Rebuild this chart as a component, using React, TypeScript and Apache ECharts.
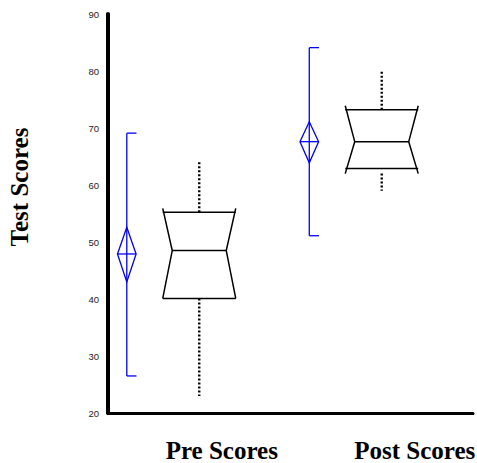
import React, { useEffect, useRef } from "react";
import * as echarts from "echarts";

const categories = ["Pre Scores", "Post Scores"];
// notched box plot values
const whiskerLow = [23.0, 59.0];
const q1 = [40.1, 62.9];
const notchLow = [40.1, 62.0];
const median = [48.5, 67.6];
const notchHigh = [55.9, 73.9];
const q3 = [55.2, 73.2];
const whiskerHigh = [64.3, 80.0];
// mean diamonds with error bars
const errLow = [26.5, 51.1];
const ciLow = [43.0, 63.9];
const means = [47.9, 67.6];
const ciHigh = [52.6, 71.1];
const errHigh = [69.1, 84.1];
const yTicks = [20, 30, 40, 50, 60, 70, 80, 90];
const yTitle = "Test Scores";

export default function App() {
  const ref = useRef<HTMLDivElement>(null);
  useEffect(() => {
    document.body.style.margin = "0";
    const chart = echarts.init(ref.current!, null, { renderer: "svg" });
    const boxData = categories.map((_, i) => [i, whiskerLow[i], q1[i], notchLow[i], median[i], notchHigh[i], q3[i], whiskerHigh[i]]);
    const meanData = categories.map((_, i) => [i, errLow[i], ciLow[i], means[i], ciHigh[i], errHigh[i]]);
    const black = { stroke: "#000", lineWidth: 1.5, fill: "none" };
    const blue = { stroke: "#0000ff", lineWidth: 1.3, fill: "none" };
    chart.setOption({
      animation: false,
      grid: { left: 108, top: 14, width: 370, height: 400 },
      xAxis: {
        type: "category",
        data: categories,
        boundaryGap: true,
        axisLine: { lineStyle: { color: "#000", width: 3 } },
        axisTick: { show: true, length: 2, lineStyle: { color: "#000", width: 2 } },
        axisLabel: {
          margin: 25,
          formatter: (v: string, i: number) => (i === 0 ? `{a|${v}}` : `{b|${v}}`),
          rich: {
            a: { fontFamily: "Liberation Serif", fontWeight: "bold", fontSize: 25, color: "#000", padding: [0, 0, 0, 45] },
            b: { fontFamily: "Liberation Serif", fontWeight: "bold", fontSize: 25, color: "#000", padding: [0, 0, 0, 66] },
          },
        },
        splitLine: { show: false },
      },
      yAxis: {
        type: "value",
        min: yTicks[0],
        max: yTicks[yTicks.length - 1],
        interval: 10,
        axisLine: { show: true, lineStyle: { color: "#000", width: 4 } },
        axisTick: { show: true, length: 2, lineStyle: { color: "#000", width: 2 } },
        axisLabel: { fontFamily: "Liberation Sans", fontSize: 9.5, color: "#222", margin: 9 },
        splitLine: { show: false },
      },
      graphic: [
        {
          type: "text",
          x: 19,
          y: 187,
          rotation: Math.PI / 2,
          style: {
            text: yTitle,
            fontFamily: "Liberation Serif",
            fontWeight: "bold",
            fontSize: 25,
            fill: "#000",
            align: "center",
            verticalAlign: "middle",
          },
        },
      ],
      series: [
        {
          type: "custom",
          data: boxData,
          encode: { x: 0, y: [1, 2, 3, 4, 5, 6, 7] },
          renderItem: (params: any, api: any) => {
            const c = api.value(0);
            const x = api.coord([c, 0])[0];
            const band = api.size([1, 0])[0];
            const hw = band * 0.2;
            const inset = band * 0.052;
            const y = (d: number) => api.coord([c, api.value(d)])[1];
            const yWL = y(1), yQ1 = y(2), yNL = y(3), yMed = y(4), yNH = y(5), yQ3 = y(6), yWH = y(7);
            const dotted = { stroke: "#000", lineWidth: 2.4, lineDash: [2, 2], fill: "none" };
            return {
              type: "group",
              children: [
                { type: "line", shape: { x1: x, y1: yQ3, x2: x, y2: yWH }, style: dotted },
                { type: "line", shape: { x1: x, y1: Math.max(yQ1, yNL), x2: x, y2: yWL }, style: dotted },
                { type: "polyline", shape: { points: [[x - hw, yNH], [x - hw + inset, yMed], [x - hw, yNL]] }, style: black },
                { type: "polyline", shape: { points: [[x + hw, yNH], [x + hw - inset, yMed], [x + hw, yNL]] }, style: black },
                { type: "line", shape: { x1: x - hw, y1: yQ3, x2: x + hw, y2: yQ3 }, style: black },
                { type: "line", shape: { x1: x - hw, y1: yQ1, x2: x + hw, y2: yQ1 }, style: black },
                { type: "line", shape: { x1: x - hw + inset, y1: yMed, x2: x + hw - inset, y2: yMed }, style: black },
              ],
            };
          },
        },
        {
          type: "custom",
          data: meanData,
          encode: { x: 0, y: [1, 2, 3, 4, 5] },
          renderItem: (params: any, api: any) => {
            const c = api.value(0);
            const band = api.size([1, 0])[0];
            const bx = api.coord([c, 0])[0] - band * 0.397;
            const cap = band * 0.053;
            const dw = band * 0.051;
            const y = (d: number) => api.coord([c, api.value(d)])[1];
            const yEL = y(1), yCL = y(2), yM = y(3), yCH = y(4), yEH = y(5);
            return {
              type: "group",
              children: [
                { type: "line", shape: { x1: bx, y1: yEL, x2: bx, y2: yEH }, style: blue },
                { type: "line", shape: { x1: bx, y1: yEH, x2: bx + cap, y2: yEH }, style: blue },
                { type: "line", shape: { x1: bx, y1: yEL, x2: bx + cap, y2: yEL }, style: blue },
                { type: "polygon", shape: { points: [[bx, yCH], [bx + dw, yM], [bx, yCL], [bx - dw, yM]] }, style: blue },
                { type: "line", shape: { x1: bx - dw, y1: yM, x2: bx + dw, y2: yM }, style: blue },
              ],
            };
          },
        },
      ],
    });
    return () => chart.dispose();
  }, []);
  return <div ref={ref} style={{ width: 477, height: 463 }} />;
}
